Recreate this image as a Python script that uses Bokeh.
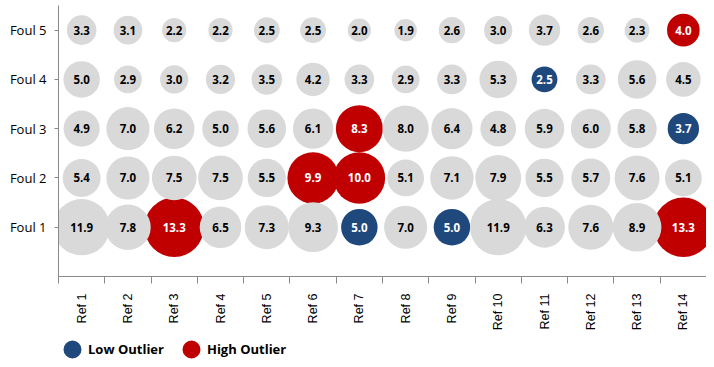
import math
from bokeh.plotting import figure
from bokeh.layouts import column
from bokeh.models import ColumnDataSource, FixedTicker, Legend, LegendItem, Range1d
from bokeh.core.properties import value
from bokeh.embed import file_html
from bokeh.resources import INLINE

refs = ["Ref 1", "Ref 2", "Ref 3", "Ref 4", "Ref 5", "Ref 6", "Ref 7",
        "Ref 8", "Ref 9", "Ref 10", "Ref 11", "Ref 12", "Ref 13", "Ref 14"]
fouls = ["Foul 1", "Foul 2", "Foul 3", "Foul 4", "Foul 5"]

foul_1 = [11.9, 7.8, 13.3, 6.5, 7.3, 9.3, 5.0, 7.0, 5.0, 11.9, 6.3, 7.6, 8.9, 13.3]
foul_2 = [5.4, 7.0, 7.5, 7.5, 5.5, 9.9, 10.0, 5.1, 7.1, 7.9, 5.5, 5.7, 7.6, 5.1]
foul_3 = [4.9, 7.0, 6.2, 5.0, 5.6, 6.1, 8.3, 8.0, 6.4, 4.8, 5.9, 6.0, 5.8, 3.7]
foul_4 = [5.0, 2.9, 3.0, 3.2, 3.5, 4.2, 3.3, 2.9, 3.3, 5.3, 2.5, 3.3, 5.6, 4.5]
foul_5 = [3.3, 3.1, 2.2, 2.2, 2.5, 2.5, 2.0, 1.9, 2.6, 3.0, 3.7, 2.6, 2.3, 4.0]

high_outliers = [("Foul 1", "Ref 3"), ("Foul 1", "Ref 14"), ("Foul 2", "Ref 6"),
                 ("Foul 2", "Ref 7"), ("Foul 3", "Ref 7"), ("Foul 5", "Ref 14")]
low_outliers = [("Foul 1", "Ref 7"), ("Foul 1", "Ref 9"), ("Foul 3", "Ref 14"),
                ("Foul 4", "Ref 11")]

# styles
GREY = "#D9D9D9"
RED = "#C00000"
BLUE = "#1F497D"
AXIS_GREY = "#898989"
MAX_DIAM = 59.5

rows = [foul_1, foul_2, foul_3, foul_4, foul_5]
vmax = max(max(r) for r in rows)

groups = {}
for g in ("low", "high", "normal"):
    groups[g] = dict(x=[], y=[], val=[], label=[], size=[], tcolor=[])

for fi, (foul, row) in enumerate(zip(fouls, rows)):
    for ri, (ref, v) in enumerate(zip(refs, row)):
        if (foul, ref) in high_outliers:
            g = "high"
        elif (foul, ref) in low_outliers:
            g = "low"
        else:
            g = "normal"
        d = groups[g]
        d["x"].append(ri + 0.5)
        d["y"].append(fi + 1)
        d["val"].append(v)
        d["label"].append(f"{v:.1f}")
        d["size"].append(MAX_DIAM * math.sqrt(v / vmax))
        d["tcolor"].append("black" if g == "normal" else "white")

p = figure(width=706, height=333, output_backend="svg", toolbar_location=None,
           x_range=Range1d(0, len(refs)), y_range=Range1d(0, 5.5),
           min_border_left=58, min_border_right=0, min_border_top=5,
           min_border_bottom=49)
p.outline_line_color = None
p.xgrid.visible = False
p.ygrid.visible = False
p.background_fill_color = "white"
p.border_fill_color = "white"

src_low = ColumnDataSource(groups["low"])
src_high = ColumnDataSource(groups["high"])
src_norm = ColumnDataSource(groups["normal"])

p.scatter("x", "y", size="size", source=src_low, fill_color=BLUE, line_color=None)
p.scatter("x", "y", size="size", source=src_high, fill_color=RED, line_color=None)
p.scatter("x", "y", size="size", source=src_norm, fill_color=GREY, line_color=None)

for src in (src_low, src_high, src_norm):
    p.text("x", "y", text="label", source=src, text_color="tcolor",
           text_font=value("Open Sans"), text_font_style="bold",
           text_font_size="11.5px", text_align="center",
           text_baseline="middle")

# x axis
xa = p.xaxis[0]
xa.ticker = FixedTicker(ticks=[i + 0.5 for i in range(len(refs))],
                        minor_ticks=list(range(len(refs) + 1)))
xa.major_label_overrides = {i + 0.5: r for i, r in enumerate(refs)}
xa.major_label_orientation = math.pi / 2
xa.major_tick_line_color = None
xa.major_tick_out = 0
xa.major_tick_in = 0
xa.minor_tick_out = 7
xa.minor_tick_in = 0
xa.minor_tick_line_color = AXIS_GREY
xa.axis_line_color = AXIS_GREY
xa.major_label_standoff = 10
xa.major_label_text_font = "Liberation Sans"
xa.major_label_text_font_size = "12.5px"
xa.major_label_text_color = "black"

# y axis
ya = p.yaxis[0]
ya.ticker = FixedTicker(ticks=list(range(1, len(fouls) + 1)), minor_ticks=[])
ya.major_label_overrides = {i + 1: f for i, f in enumerate(fouls)}
ya.major_tick_out = 4
ya.major_tick_in = 0
ya.major_tick_line_color = AXIS_GREY
ya.axis_line_color = AXIS_GREY
ya.major_label_standoff = 8
ya.major_label_text_font = "Open Sans"
ya.major_label_text_font_size = "13px"
ya.major_label_text_color = "black"

# legend strip below the chart
lf = figure(width=706, height=26, output_backend="svg", toolbar_location=None,
            x_range=Range1d(0, 1), y_range=Range1d(0, 1),
            min_border_left=0, min_border_right=0, min_border_top=0,
            min_border_bottom=0)
lf.axis.visible = False
lf.xgrid.visible = False
lf.ygrid.visible = False
lf.outline_line_color = None
lf.background_fill_color = "white"
lf.border_fill_color = "white"
# swatch renderers: one undrawn (NaN) point each, shown only as legend glyphs
leg_low = lf.scatter(x=[float("nan")], y=[float("nan")], size=8,
                     fill_color=BLUE, line_color=BLUE, line_width=10)
leg_high = lf.scatter(x=[float("nan")], y=[float("nan")], size=8,
                      fill_color=RED, line_color=RED, line_width=10)
legend = Legend(items=[LegendItem(label="Low Outlier", renderers=[leg_low]),
                       LegendItem(label="High Outlier", renderers=[leg_high])],
                orientation="horizontal", location=(4, 0),
                glyph_width=20, glyph_height=20, label_standoff=6,
                spacing=17, padding=0, margin=0,
                border_line_color=None, background_fill_alpha=0,
                label_text_font="Open Sans", label_text_font_style="bold",
                label_text_font_size="13px", label_text_color="black")
lf.add_layout(legend, "center")

layout = column(p, lf, spacing=0)
open("out.html", "w").write(file_html(layout, INLINE))
